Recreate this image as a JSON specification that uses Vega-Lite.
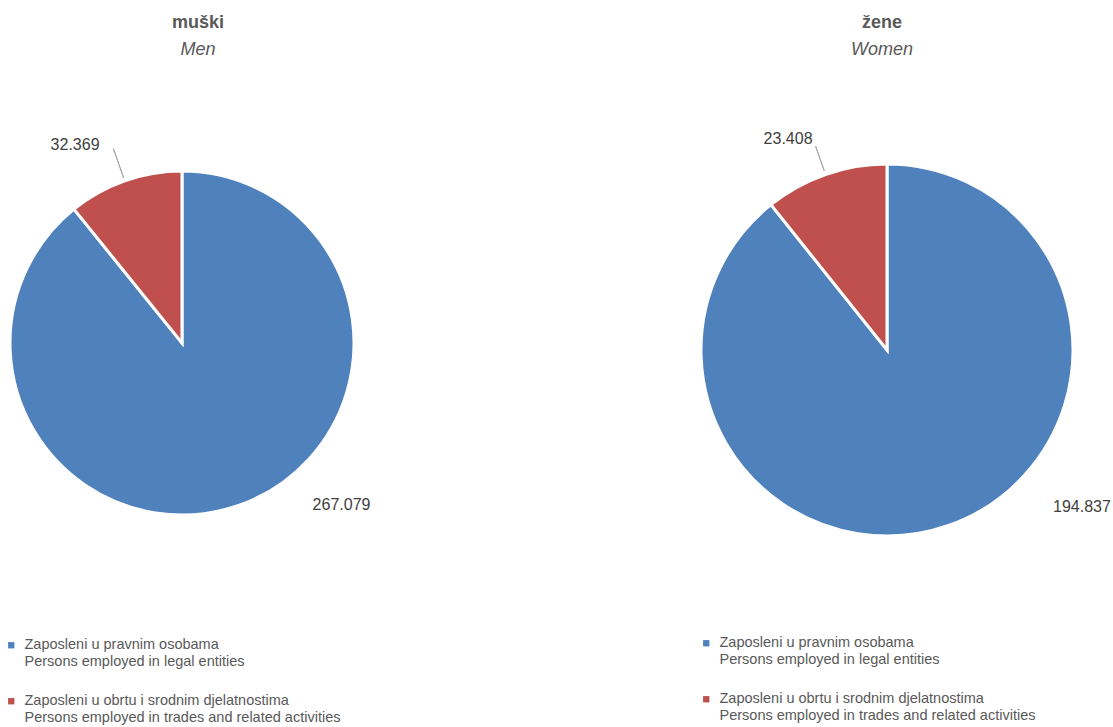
{
  "$schema": "https://vega.github.io/schema/vega-lite/v6.json",
  "padding": {"top": 14, "left": 0, "right": 0, "bottom": 0},
  "background": "white",
  "bounds": "flush",
  "config": {
    "view": {"stroke": null},
    "locale": {"number": {"decimal": ",", "thousands": ".", "grouping": [3], "currency": ["", ""]}},
    "font": "Liberation Sans",
    "title": {"font": "Liberation Sans", "fontSize": 18, "fontWeight": "bold", "color": "#595959", "subtitleFont": "Liberation Sans", "subtitleFontSize": 18, "subtitleFontStyle": "italic", "subtitleColor": "#595959", "subtitlePadding": 9, "anchor": "middle"}
  },
  "datasets": {
    "zaposleni": [
      {"spol": "muški", "kategorija": "Zaposleni u pravnim osobama|Persons employed in legal entities", "value": 267079},
      {"spol": "muški", "kategorija": "Zaposleni u obrtu i srodnim djelatnostima|Persons employed in trades and related activities", "value": 32369},
      {"spol": "žene", "kategorija": "Zaposleni u pravnim osobama|Persons employed in legal entities", "value": 194837},
      {"spol": "žene", "kategorija": "Zaposleni u obrtu i srodnim djelatnostima|Persons employed in trades and related activities", "value": 23408}
    ]
  },
  "data": {"name": "zaposleni"},
  "spacing": 297,
  "resolve": {"scale": {"color": "independent"}, "legend": {"color": "independent"}},
  "hconcat": [
    {
      "title": {"text": "muški", "subtitle": "Men", "dx": 16, "offset": 1},
      "width": 364,
      "height": 566,
      "transform": [{"filter": "datum.spol == 'muški'"}],
      "layer": [
        {
          "mark": {"type": "arc", "outerRadius": 172, "stroke": "white", "strokeWidth": 3},
          "encoding": {
            "theta": {"field": "value", "type": "quantitative", "stack": true},
            "order": {"field": "value", "sort": "descending"},
            "color": {
              "field": "kategorija", "type": "nominal",
              "scale": {"domain": ["Zaposleni u pravnim osobama|Persons employed in legal entities", "Zaposleni u obrtu i srodnim djelatnostima|Persons employed in trades and related activities"], "range": ["#4F81BD", "#C0504D"]},
              "legend": {"orient": "none", "legendX": 4, "legendY": 578, "title": null, "symbolType": "square", "symbolSize": 40, "symbolStrokeWidth": 0, "labelExpr": "split(datum.label, '|')", "labelFont": "Liberation Sans", "labelFontSize": 14.5, "labelColor": "#595959", "labelLimit": 500, "labelOffset": 6, "rowPadding": 24, "labelBaseline": "middle"}
            }
          }
        },
        {
          "transform": [{"filter": "indexof(datum.kategorija, 'obrtu') >= 0"}],
          "mark": {"type": "arc", "fill": null, "filled": false, "stroke": "#A6A6A6", "strokeWidth": 1},
          "encoding": {
            "theta": {"value": 5.9436},
            "theta2": {"value": 5.9436},
            "radius": {"value": 206},
            "radius2": {"value": 175}
          }
        },
        {
          "transform": [{"filter": "indexof(datum.kategorija, 'obrtu') >= 0"}],
          "mark": {"type": "text", "font": "Liberation Sans", "fontSize": 16, "color": "#404040", "align": "center", "baseline": "middle"},
          "encoding": {
            "theta": {"value": 5.788},
            "radius": {"value": 225},
            "text": {"field": "value", "type": "quantitative", "format": ",d"}
          }
        },
        {
          "transform": [{"filter": "indexof(datum.kategorija, 'pravnim') >= 0"}],
          "mark": {"type": "text", "font": "Liberation Sans", "fontSize": 16, "color": "#404040", "align": "center", "baseline": "middle"},
          "encoding": {
            "theta": {"value": 2.3653},
            "radius": {"value": 227.7},
            "text": {"field": "value", "type": "quantitative", "format": ",d"}
          }
        }
      ]
    },
    {
      "title": {"text": "žene", "subtitle": "Women", "dx": -5, "offset": 1},
      "width": 452,
      "height": 580,
      "transform": [{"filter": "datum.spol == 'žene'"}],
      "layer": [
        {
          "mark": {"type": "arc", "outerRadius": 186, "stroke": "white", "strokeWidth": 3},
          "encoding": {
            "theta": {"field": "value", "type": "quantitative", "stack": true},
            "order": {"field": "value", "sort": "descending"},
            "color": {
              "field": "kategorija", "type": "nominal",
              "scale": {"domain": ["Zaposleni u pravnim osobama|Persons employed in legal entities", "Zaposleni u obrtu i srodnim djelatnostima|Persons employed in trades and related activities"], "range": ["#4F81BD", "#C0504D"]},
              "legend": {"orient": "none", "legendX": 38, "legendY": 576, "title": null, "symbolType": "square", "symbolSize": 40, "symbolStrokeWidth": 0, "labelExpr": "split(datum.label, '|')", "labelFont": "Liberation Sans", "labelFontSize": 14.5, "labelColor": "#595959", "labelLimit": 500, "labelOffset": 6, "rowPadding": 24, "labelBaseline": "middle"}
            }
          }
        },
        {
          "transform": [{"filter": "indexof(datum.kategorija, 'obrtu') >= 0"}],
          "mark": {"type": "arc", "fill": null, "filled": false, "stroke": "#A6A6A6", "strokeWidth": 1},
          "encoding": {
            "theta": {"value": 5.9463},
            "theta2": {"value": 5.9463},
            "radius": {"value": 216},
            "radius2": {"value": 190}
          }
        },
        {
          "transform": [{"filter": "indexof(datum.kategorija, 'obrtu') >= 0"}],
          "mark": {"type": "text", "font": "Liberation Sans", "fontSize": 16, "color": "#404040", "align": "center", "baseline": "middle"},
          "encoding": {
            "theta": {"value": 5.8447},
            "radius": {"value": 233},
            "text": {"field": "value", "type": "quantitative", "format": ",d"}
          }
        },
        {
          "transform": [{"filter": "indexof(datum.kategorija, 'pravnim') >= 0"}],
          "mark": {"type": "text", "font": "Liberation Sans", "fontSize": 16, "color": "#404040", "align": "center", "baseline": "middle"},
          "encoding": {
            "theta": {"value": 2.2488},
            "radius": {"value": 250.3},
            "text": {"field": "value", "type": "quantitative", "format": ",d"}
          }
        }
      ]
    }
  ]
}
